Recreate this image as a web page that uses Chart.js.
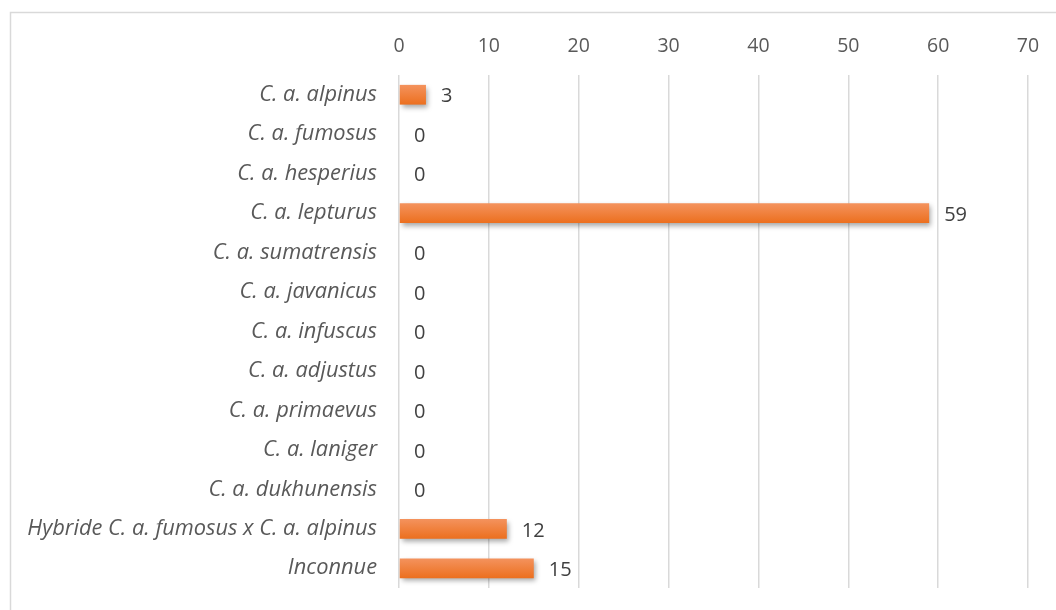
<!DOCTYPE html>
<html>
<head>
<meta charset="utf-8">
<script src="https://cdn.jsdelivr.net/npm/chart.js@4/dist/chart.umd.min.js"></script>
<style>
  html, body { margin: 0; padding: 0; background: #fff; }
  #wrap { width: 1056px; height: 610px; position: relative; }
</style>
</head>
<body>
<div id="wrap"><canvas id="c" width="1056" height="610"></canvas></div>
<script>
const categories = [
  "C. a. alpinus",
  "C. a. fumosus",
  "C. a. hesperius",
  "C. a. lepturus",
  "C. a. sumatrensis",
  "C. a. javanicus",
  "C. a. infuscus",
  "C. a. adjustus",
  "C. a. primaevus",
  "C. a. laniger",
  "C. a. dukhunensis",
  "Hybride C. a. fumosus x C. a. alpinus",
  "Inconnue"
];
const counts = [3, 0, 0, 59, 0, 0, 0, 0, 0, 0, 0, 12, 15];
const xMin = 0, xMax = 70, xStep = 10;

const FONT = "'Open Sans', Lato, sans-serif";
const FSIZE = 19.5;
const LSIZE = 21.8;

const frame = {
  id: 'frame',
  beforeDraw(chart) {
    const ctx = chart.ctx;
    ctx.save();
    ctx.strokeStyle = '#D9D9D9';
    ctx.lineWidth = 1.5;
    ctx.strokeRect(10.5, 12.5, 1100, 700);
    ctx.restore();
  }
};

const shadow = {
  id: 'shadow',
  beforeDatasetsDraw(chart) {
    const ctx = chart.ctx;
    ctx.save();
    ctx.shadowColor = 'rgba(0,0,0,0.35)';
    ctx.shadowBlur = 5;
    ctx.shadowOffsetX = 2;
    ctx.shadowOffsetY = 3;
  },
  afterDatasetsDraw(chart) {
    chart.ctx.restore();
  }
};

const valueLabels = {
  id: 'valueLabels',
  afterDatasetsDraw(chart) {
    const ctx = chart.ctx;
    const meta = chart.getDatasetMeta(0);
    ctx.save();
    ctx.font = "20px " + FONT;
    ctx.fillStyle = '#404040';
    ctx.textAlign = 'left';
    ctx.textBaseline = 'middle';
    meta.data.forEach((bar, i) => {
      ctx.fillText(String(counts[i]), bar.x + 15, bar.y + 2);
    });
    ctx.restore();
  }
};

new Chart(document.getElementById('c'), {
  type: 'bar',
  data: {
    labels: categories,
    datasets: [{
      data: counts,
      backgroundColor(context) {
        const chart = context.chart;
        const ys = chart.scales.y;
        if (!ys || !chart.chartArea) return '#F07B30';
        const y = ys.getPixelForValue(context.dataIndex);
        const h = 20;
        const g = chart.ctx.createLinearGradient(0, y - h / 2, 0, y + h / 2);
        g.addColorStop(0, '#F4935E');
        g.addColorStop(1, '#EC6F1E');
        return g;
      },
      borderWidth: 0,
      categoryPercentage: 1,
      barPercentage: 0.5
    }]
  },
  options: {
    indexAxis: 'y',
    responsive: false,
    animation: false,
    devicePixelRatio: 1,
    layout: { padding: { top: 0, right: 28, bottom: 22, left: 0 } },
    plugins: {
      legend: { display: false },
      tooltip: { enabled: false }
    },
    scales: {
      x: {
        position: 'top',
        min: xMin,
        max: xMax,
        ticks: {
          stepSize: xStep,
          color: '#595959',
          font: { family: FONT, size: FSIZE },
          padding: 17
        },
        grid: { color: '#D9D9D9', lineWidth: 1.5, drawTicks: false },
        border: { display: false },
        afterFit(scale) { scale.height = 75; scale.paddingLeft = 0; scale.paddingRight = 0; }
      },
      y: {
        ticks: {
          color: '#595959',
          font: { family: FONT, size: LSIZE, style: 'italic' },
          padding: 22
        },
        grid: { display: false, drawTicks: false },
        border: { display: false },
        afterFit(scale) { scale.width = 399; scale.paddingTop = 0; scale.paddingBottom = 0; }
      }
    }
  },
  plugins: [frame, shadow, valueLabels]
});
</script>
</body>
</html>
